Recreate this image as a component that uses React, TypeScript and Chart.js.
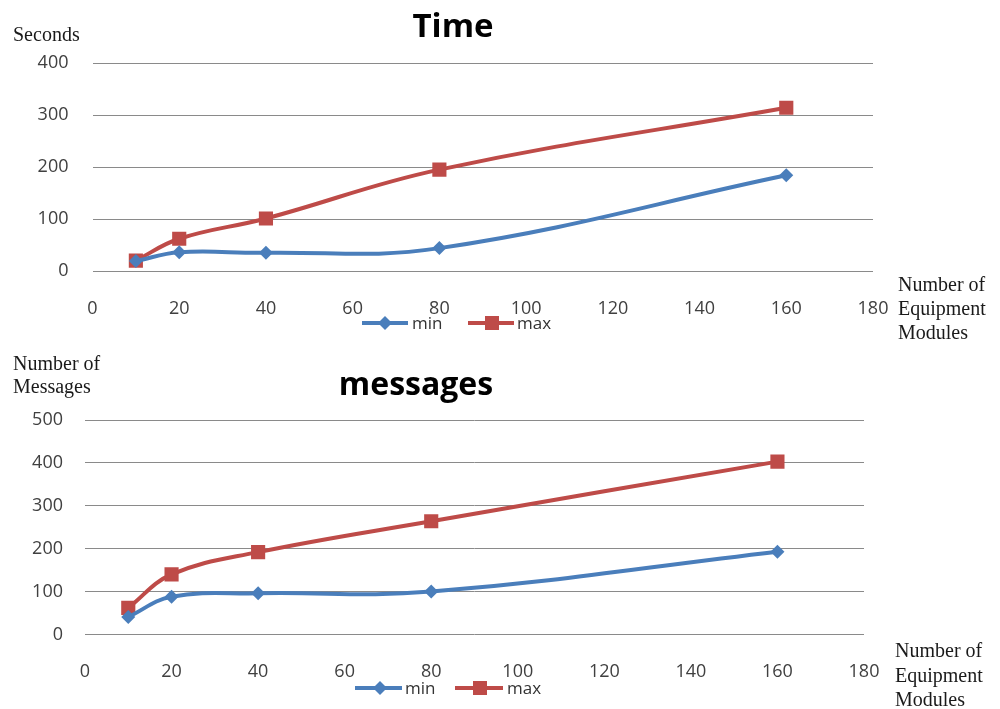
import React, { useEffect, useRef } from "react";
import { Chart, registerables } from "chart.js";

Chart.register(...registerables);

// ---------- data ----------
const xValues = [10, 20, 40, 80, 160];
const timeMin = [19, 36, 35, 44, 184];
const timeMax = [20, 62, 101, 195, 314];
const msgMin = [41, 88, 96, 100, 193];
const msgMax = [62, 140, 192, 264, 403];
const seriesNames = ["min", "max"];
const xTitleLines = ["Number of", "Equipment", "Modules"];
const timeYTitle = ["Seconds"];
const msgYTitle = ["Number of", "Messages"];
const timeTitle = "Time";
const msgTitle = "messages";

const BLUE = "#4A7EBB";
const RED = "#BE4B48";
const SANS = '"Open Sans", "DejaVu Sans", sans-serif';
const SERIF = '"Liberation Serif", "DejaVu Serif", serif';

const decorPlugin = {
  id: "decor",
  afterDraw(chart: any, _args: any, opts: any) {
    const ctx = chart.ctx as CanvasRenderingContext2D;
    ctx.save();
    // title
    ctx.fillStyle = "#000";
    ctx.font = `bold ${opts.titleSize}px ${SANS}`;
    ctx.textAlign = "center";
    ctx.textBaseline = "alphabetic";
    ctx.fillText(opts.title, opts.titleX, opts.titleY);
    // axis titles
    ctx.fillStyle = "#1a1a1a";
    ctx.font = `20px ${SERIF}`;
    ctx.textAlign = "left";
    (opts.yTitle as string[]).forEach((t, i) => ctx.fillText(t, opts.yTitleX, opts.yTitleY[i]));
    (opts.xTitle as string[]).forEach((t, i) => ctx.fillText(t, opts.xTitleX, opts.xTitleY[i]));
    // legend
    const y = opts.legendY;
    chart.data.datasets.forEach((ds: any, i: number) => {
      const lg = opts.legend[i];
      ctx.strokeStyle = ds.borderColor;
      ctx.lineWidth = 4;
      ctx.beginPath();
      ctx.moveTo(lg.x1, y);
      ctx.lineTo(lg.x2, y);
      ctx.stroke();
      ctx.fillStyle = ds.borderColor;
      ctx.beginPath();
      if (ds.pointStyle === "rectRot") {
        const r = 7;
        ctx.moveTo(lg.mx, y - r);
        ctx.lineTo(lg.mx + r, y);
        ctx.lineTo(lg.mx, y + r);
        ctx.lineTo(lg.mx - r, y);
        ctx.closePath();
      } else {
        const s = 7;
        ctx.rect(lg.mx - s, y - s, 2 * s, 2 * s);
      }
      ctx.fill();
      ctx.fillStyle = "#333";
      ctx.font = `17px ${SANS}`;
      ctx.textAlign = "left";
      ctx.textBaseline = "middle";
      ctx.fillText(ds.label, lg.tx, y + 1);
    });
    ctx.restore();
  },
};

type Cfg = {
  height: number;
  minVals: number[];
  maxVals: number[];
  yMax: number;
  yWidth: number;
  padRight: number;
  padTop: number;
  padBottom: number;
  yTickPad: number;
  decor: any;
};

const X_AXIS_H = 55;

function LineChart({ cfg }: { cfg: Cfg }) {
  const ref = useRef<HTMLCanvasElement | null>(null);
  useEffect(() => {
    if (!ref.current) return;
    const chart = new Chart(ref.current, {
      type: "line",
      data: {
        datasets: [
          {
            label: seriesNames[0],
            data: xValues.map((x, i) => ({ x, y: cfg.minVals[i] })),
            borderColor: BLUE,
            backgroundColor: BLUE,
            borderWidth: 4,
            pointStyle: "rectRot",
            pointRadius: 7,
            pointBorderWidth: 0,
            tension: 0.4,
          },
          {
            label: seriesNames[1],
            data: xValues.map((x, i) => ({ x, y: cfg.maxVals[i] })),
            borderColor: RED,
            backgroundColor: RED,
            borderWidth: 4,
            pointStyle: "rect",
            pointRadius: 10,
            pointBorderWidth: 0,
            tension: 0.4,
          },
        ],
      },
      options: {
        responsive: false,
        animation: false,
        layout: {
          padding: { left: 0, right: cfg.padRight, top: cfg.padTop, bottom: cfg.padBottom },
        },
        plugins: {
          legend: { display: false },
          title: { display: false },
          tooltip: { enabled: false },
          decor: cfg.decor,
        } as any,
        scales: {
          x: {
            type: "linear",
            min: 0,
            max: 180,
            grid: { display: false },
            border: { display: false },
            ticks: {
              stepSize: 20,
              padding: 19,
              color: "#404040",
              font: { family: SANS, size: 18 },
              maxRotation: 0,
            },
            afterFit: (s: any) => {
              s.height = X_AXIS_H;
            },
          },
          y: {
            min: 0,
            max: cfg.yMax,
            grid: { color: "#8a8a8a", lineWidth: 1, drawTicks: false },
            border: { display: false },
            ticks: {
              stepSize: 100,
              padding: cfg.yTickPad,
              color: "#404040",
              font: { family: SANS, size: 18 },
            },
            afterFit: (s: any) => {
              s.width = cfg.yWidth;
            },
          },
        },
      },
      plugins: [decorPlugin],
    } as any);
    return () => chart.destroy();
  }, [cfg]);
  return <canvas ref={ref} width={1000} height={cfg.height} style={{ display: "block" }} />;
}

const topCfg: Cfg = {
  height: 355,
  minVals: timeMin,
  maxVals: timeMax,
  yMax: 400,
  yWidth: 92.5,
  padRight: 127,
  padTop: 63,
  padBottom: 355 - 271 - X_AXIS_H,
  yTickPad: 24,
  decor: {
    title: timeTitle,
    titleSize: 33,
    titleX: 453,
    titleY: 37,
    yTitle: timeYTitle,
    yTitleX: 13,
    yTitleY: [41],
    xTitle: xTitleLines,
    xTitleX: 898,
    xTitleY: [291, 315, 339],
    legendY: 323,
    legend: [
      { x1: 362, x2: 408, mx: 385, tx: 412 },
      { x1: 468, x2: 514, mx: 492, tx: 517 },
    ],
  },
};

const bottomCfg: Cfg = {
  height: 354,
  minVals: msgMin,
  maxVals: msgMax,
  yMax: 500,
  yWidth: 85,
  padRight: 136,
  padTop: 65,
  padBottom: 354 - 279.5 - X_AXIS_H,
  yTickPad: 22,
  decor: {
    title: msgTitle,
    titleSize: 32,
    titleX: 416,
    titleY: 40,
    yTitle: msgYTitle,
    yTitleX: 13,
    yTitleY: [15, 38],
    xTitle: xTitleLines,
    xTitleX: 895,
    xTitleY: [302, 327, 351],
    legendY: 333,
    legend: [
      { x1: 355, x2: 402, mx: 380, tx: 405 },
      { x1: 455, x2: 503, mx: 480, tx: 507 },
    ],
  },
};

export default function App() {
  return (
    <div
      style={{
        position: "absolute",
        left: 0,
        top: 0,
        width: 1000,
        height: 709,
        background: "#fff",
        overflow: "hidden",
      }}
    >
      <LineChart cfg={topCfg} />
      <LineChart cfg={bottomCfg} />
    </div>
  );
}
